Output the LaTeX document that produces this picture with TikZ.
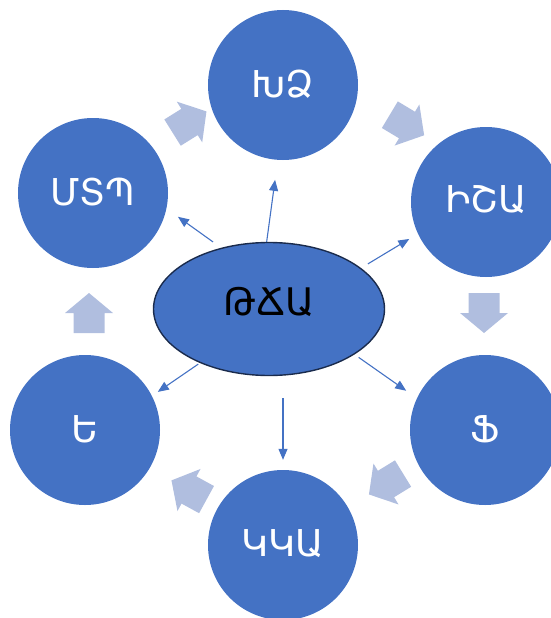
\documentclass[tikz,border=0pt]{standalone}
\usepackage{fontspec}
\setmainfont{DejaVu Sans}
\usetikzlibrary{shapes.geometric,arrows.meta}
\definecolor{cblue}{HTML}{4472C4}
\definecolor{pale}{HTML}{B0BEDF}
\definecolor{navy}{HTML}{1A2B4C}
\begin{document}
\begin{tikzpicture}[x=1pt,y=-1pt,
  circ/.style={circle,fill=cblue,minimum size=150pt,inner sep=0pt,text=white,font=\fontsize{37}{40}\selectfont},
  conn/.style={draw=cblue,line width=1.1pt,-{Triangle[length=11pt,width=9pt]}},
  barrow/.style={fill=pale}]
\useasboundingbox (0,0) rectangle (551,618);
% outer circles
\node[circ] (t)  at (283,85)  {\raisebox{3pt}{ԽՁ}};
\node[circ] (r1) at (486,202) {\raisebox{6pt}{ԻՇԱ}};
\node[circ] (r2) at (485,430) {\raisebox{2pt}{Ֆ}};
\node[circ] (b)  at (283,545) {\raisebox{3pt}{ԿԿԱ}};
\node[circ] (l2) at (85,430)  {\raisebox{2pt}{Ե}};
\node[circ] (l1) at (93,193)  {\raisebox{3pt}{ՄՏՊ}};
% centre
\node[ellipse,fill=cblue,draw=navy,line width=1.4pt,minimum width=231pt,minimum height=133pt,inner sep=0pt,
      font=\fontsize{38}{40}\selectfont] (c) at (269,309) {\raisebox{16pt}{ԹՃԱ}};
% connectors
\draw[conn,shorten >=20pt] (c.92) -- (t.266);
\draw[conn,shorten <=10pt,shorten >=14pt] (c.128) -- (l1.348);
\draw[conn,shorten <=8pt,shorten >=10pt] (c.24) -- (r1.205);
\draw[conn,shorten <=5pt,shorten >=13pt] (c.332) -- (r2.155);
\draw[conn,shorten <=22pt,shorten >=10pt] (c.south -| b.north) -- (b.north);
\draw[conn,shorten <=2pt,shorten >=7pt] (c.218) -- (l2.27);
% cycle block arrows
\foreach \px/\py/\r in {189.5/122/32, 407/125/-31, 484/313/-90, 386/484/-148.5, 189/490/151.3, 89/313/90}{
  \begin{scope}[shift={(\px,\py)},rotate=\r]
    \fill[barrow] (-20,-15.5) -- (0,-15.5) -- (0,-24) -- (20,0) -- (0,24) -- (0,15.5) -- (-20,15.5) -- cycle;
  \end{scope}
}
\end{tikzpicture}
\end{document}
